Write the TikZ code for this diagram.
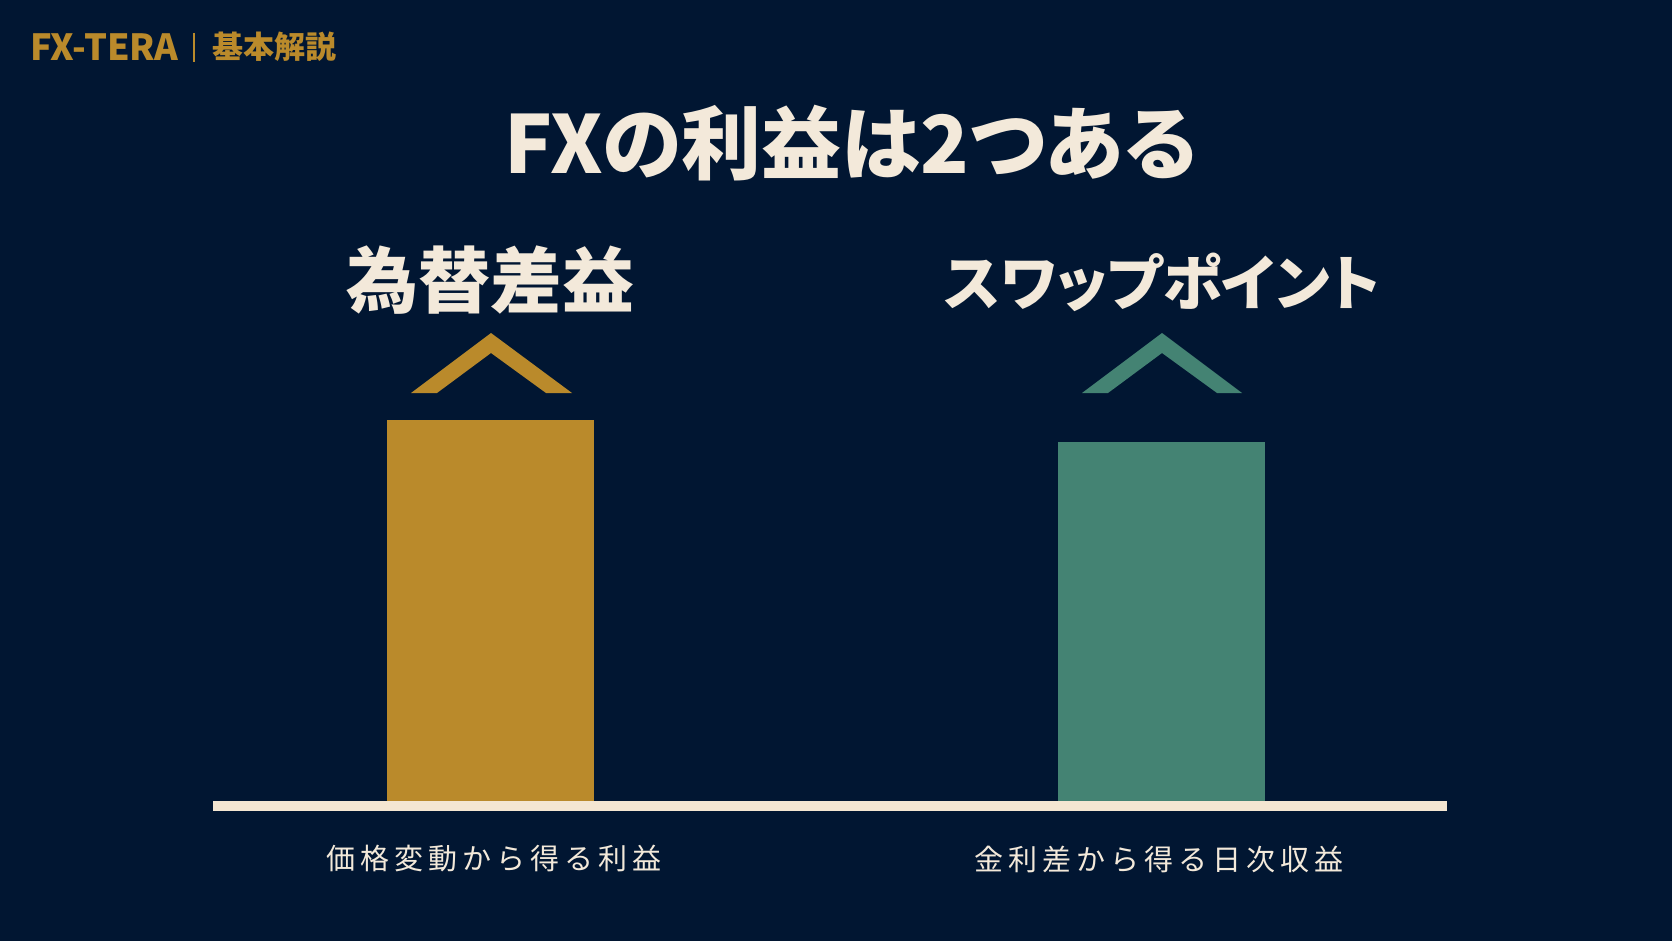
\documentclass[tikz,border=0pt]{standalone}
\usepackage{fontspec}
\newfontfamily\cjk{Noto Sans CJK JP}
\newfontfamily\cjkp{Noto Sans CJK JP}[RawFeature=+palt]
\newfontfamily\cjkls{Noto Sans CJK JP}[LetterSpace=17]
\definecolor{bgnavy}{HTML}{011632}
\definecolor{gold}{HTML}{BA8A2B}
\definecolor{teal}{HTML}{448373}
\definecolor{cream}{HTML}{F4E6D2}
\definecolor{titlecol}{HTML}{F3E9DA}
\tikzset{
  txt/.style={inner sep=0pt, outer sep=0pt},
  catlabel/.style={txt, text=titlecol},
  sublabel/.style={txt, text=titlecol},
}
\begin{document}
\begin{tikzpicture}[x=1pt,y=-1pt]
\fill[bgnavy] (0,0) rectangle (1672,941);
\useasboundingbox (0,0) rectangle (1672,941);

% header
\node[txt, anchor=west, text=gold] (brand) at (30,47) {\cjk\bfseries\fontsize{36}{36}\selectfont FX-TERA};
\coordinate (bart) at (194,33);
\coordinate (barb) at (194,62);
\draw[gold, line width=1.6pt] (bart) -- (barb);
\node[txt, anchor=west, text=gold] (sub) at (212,47) {\cjk\bfseries\fontsize{31}{31}\selectfont 基本解説};

% title
\node[catlabel] (title) at (851,143) {\cjkp\bfseries\fontsize{80}{80}\selectfont FXの利益は2つある};

% category labels
\node[catlabel] (cat1) at (490,280) {\cjk\bfseries\fontsize{72}{72}\selectfont 為替差益};
\node[catlabel] (cat2) at (1162,282) {\cjkp\bfseries\fontsize{60}{60}\selectfont スワップポイント};

% chevrons
\fill[gold] (411,393) -- (491,333) -- (572,393) -- (546,393) -- (491,353) -- (437,393) -- cycle;
\fill[teal] (1082,393) -- (1162,333) -- (1242,393) -- (1217,393) -- (1162,353) -- (1108,393) -- cycle;

% bars
\fill[gold] (387,420) rectangle (594,802);
\fill[teal] (1058,442) rectangle (1265,802);

% baseline
\fill[cream] (213,801) rectangle (1447,811);

% bottom labels
\node[sublabel] (desc1) at (494,859) {\cjkls\fontsize{29}{29}\selectfont 価格変動から得る利益};
\node[sublabel] (desc2) at (1159,859) {\cjkls\fontsize{29}{29}\selectfont 金利差から得る日次収益};
\end{tikzpicture}
\end{document}
